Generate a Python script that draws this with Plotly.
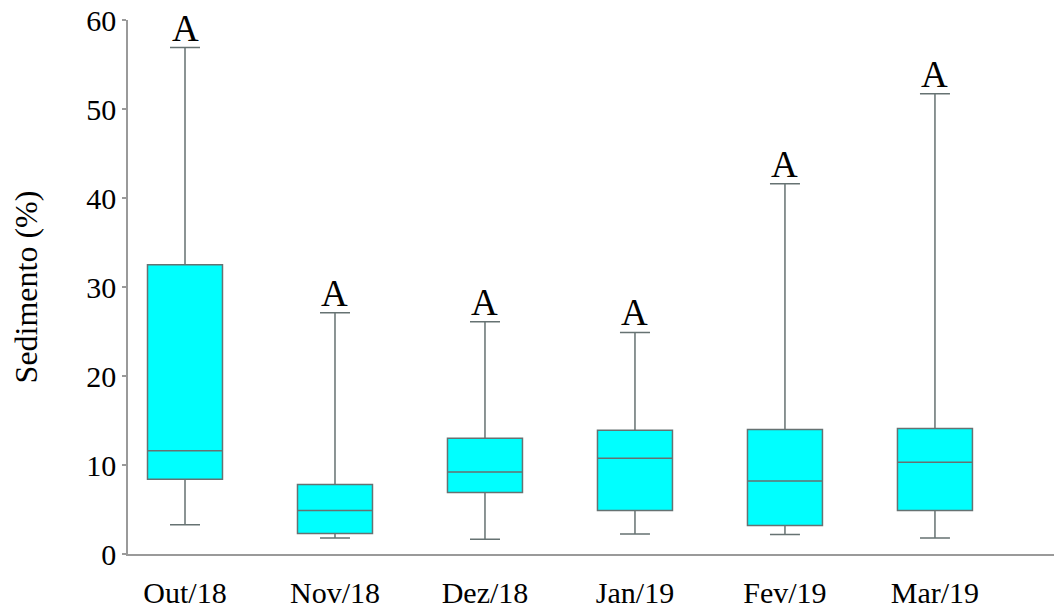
import plotly.graph_objects as go

categories = ["Out/18", "Nov/18", "Dez/18", "Jan/19", "Fev/19", "Mar/19"]
lower = [3.3, 1.8, 1.65, 2.25, 2.2, 1.8]
q1 = [8.4, 2.3, 6.9, 4.9, 3.2, 4.9]
median = [11.6, 4.9, 9.2, 10.75, 8.2, 10.3]
q3 = [32.5, 7.8, 13.0, 13.9, 14.0, 14.1]
upper = [56.9, 27.1, 26.1, 24.9, 41.6, 51.7]
letters = ["A", "A", "A", "A", "A", "A"]

FONT = "Liberation Serif, Times New Roman, serif"

fig = go.Figure()
fig.add_trace(go.Box(
    x=categories,
    q1=q1, median=median, q3=q3,
    lowerfence=lower, upperfence=upper,
    boxpoints=False,
    fillcolor="#00FFFF",
    line=dict(color="#667272", width=1.5),
    whiskerwidth=0.4,
    showlegend=False,
    hoverinfo="skip",
))

for c, u, t in zip(categories, upper, letters):
    fig.add_annotation(x=c, y=u, text=t, showarrow=False, yanchor="bottom",
                       yshift=-3, font=dict(family=FONT, size=37, color="black"))

fig.update_layout(
    width=1054, height=600,
    margin=dict(l=120, r=0, t=12, b=54),
    plot_bgcolor="white", paper_bgcolor="white",
    boxgap=0.5, boxgroupgap=0,
    font=dict(family=FONT, color="black"),
    xaxis=dict(
        range=[-0.38, 5.847],
        showline=True, linecolor="#9a9a9a", linewidth=1.5,
        ticks="outside", ticklen=11, tickcolor="rgba(0,0,0,0)",
        tickfont=dict(family=FONT, size=30, color="black"),
        showgrid=False, zeroline=False,
    ),
    yaxis=dict(
        range=[0, 60], tickvals=[0, 10, 20, 30, 40, 50, 60],
        showline=True, linecolor="#9a9a9a", linewidth=1.5,
        ticks="outside", ticklen=4, tickcolor="#9a9a9a", tickwidth=1.5,
        tickfont=dict(family=FONT, size=30, color="black"),
        ticklabeloverflow="allow",
        showgrid=False, zeroline=False,
        title=dict(text="Sedimento (%)", font=dict(family=FONT, size=32, color="black"), standoff=44),
        automargin=False,
    ),
)

fig.write_html("out.html")
